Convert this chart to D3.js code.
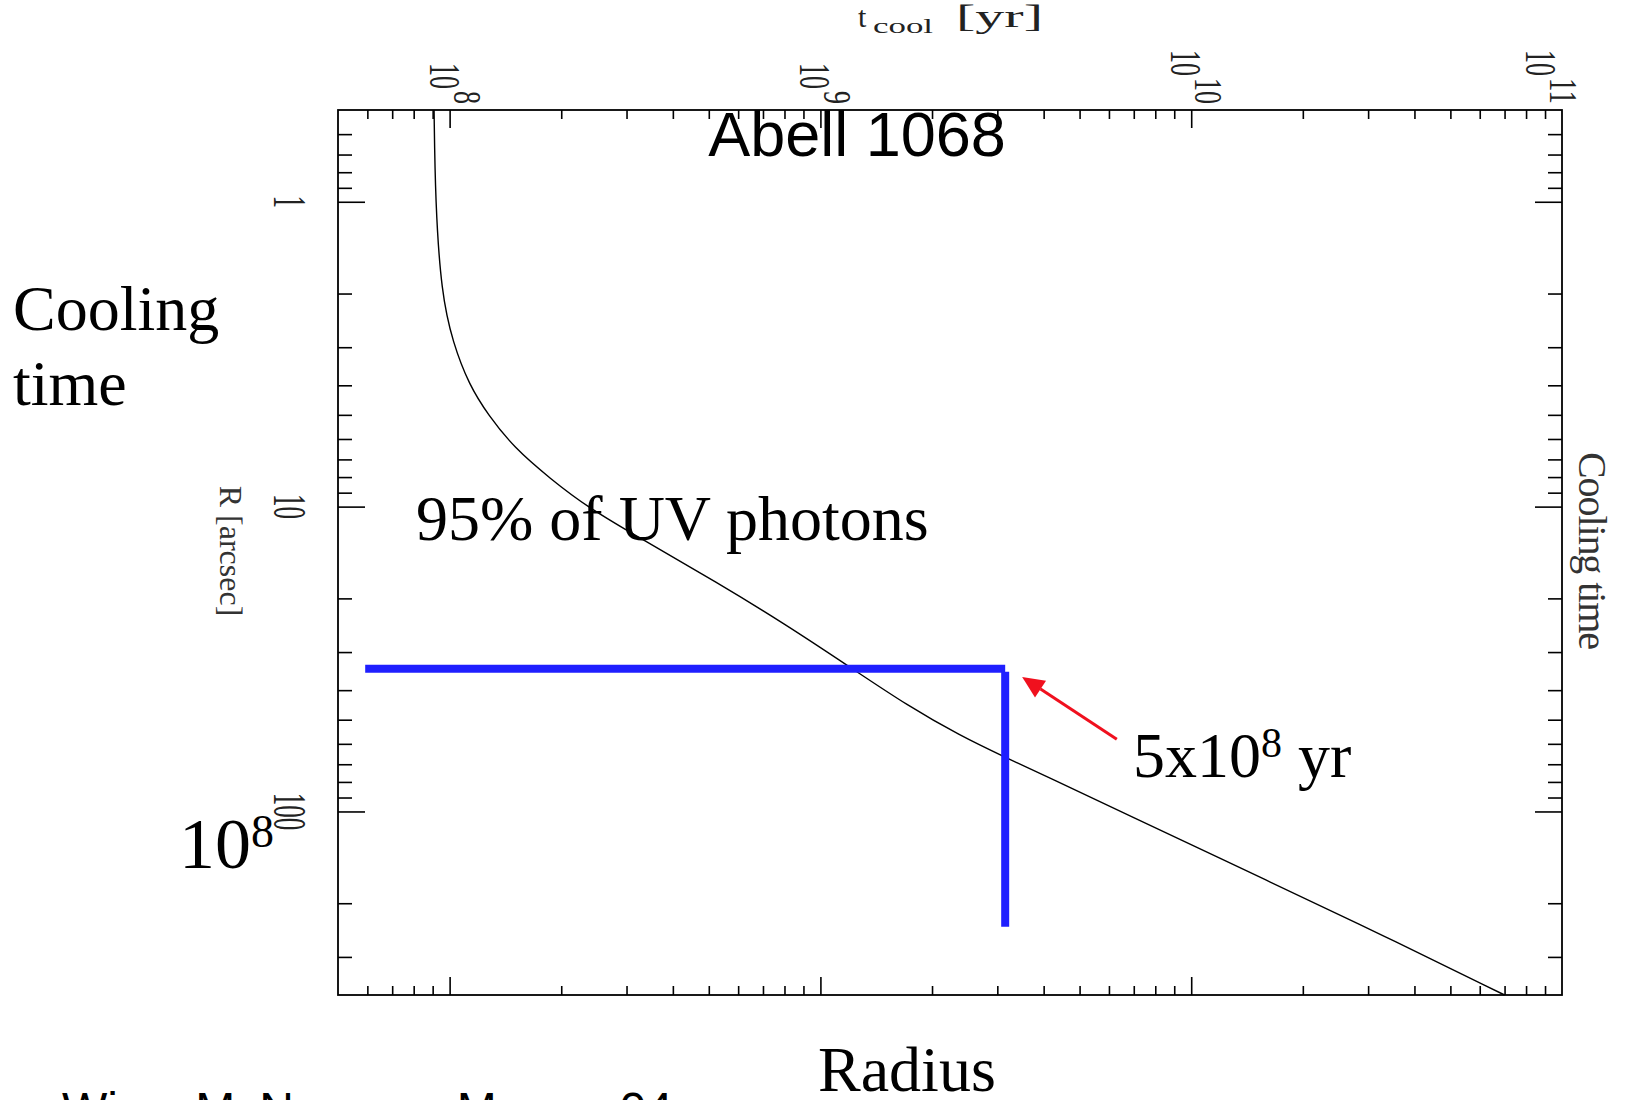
<!DOCTYPE html>
<html><head><meta charset="utf-8">
<script src="https://cdn.jsdelivr.net/npm/d3@7"></script>
<style>html,body{margin:0;padding:0;background:#fff;} svg{display:block;}</style>
</head><body>
<svg id="chart" width="1630" height="1100"></svg>
<script>
// ---- data ----
const curveR = [0.5, 1, 2, 2.9, 4, 5, 6.4, 8.1, 10, 12.9, 17.7, 24.2, 33.8, 45, 56.4, 66.2, 77.8, 100, 172, 255, 400];
const curveT = [9.08e7, 9.15e7, 9.5e7, 1.02e8, 1.13e8, 1.27e8, 1.49e8, 1.87e8, 2.34e8, 3.34e8, 5.25e8, 8.0e8, 1.21e9, 1.72e9, 2.38e9, 3.13e9, 4.17e9, 6.45e9, 1.66e10, 3.29e10, 7.0e10];
const blueHorizT = [5.92e7, 3.15e9];
const blueHorizR = [34, 34];
const blueVertT = [3.15e9, 3.15e9];
const blueVertR = [34.8, 239];
const arrowT = [6.3e9, 3.5e9];
const arrowR = [58, 36.2];
const xDomain = [5e7, 1e11];
const yDomain = [0.5, 400];
const xLabelValues = [1e8, 1e9, 1e10, 1e11];
const xLabelExps = ["8", "9", "10", "11"];
const yLabelValues = [1, 10, 100];
const yLabelTexts = ["1", "10", "100"];

// ---- layout ----
const L = 338, R = 1562, T = 110, B = 995;
const svg = d3.select("#chart");
const x = d3.scaleLog().domain(xDomain).range([L, R]);
const y = d3.scaleLog().domain(yDomain).range([T, B]);
const hershey = "'Liberation Serif', 'DejaVu Serif', serif";
const times = "'Liberation Serif', 'Times New Roman', serif";

const isMajor = v => Math.abs(Math.log10(v) - Math.round(Math.log10(v))) < 1e-9;
const xTicks = x.ticks().filter(v => v > xDomain[0] && v < xDomain[1]);
const yTicks = y.ticks().filter(v => v > yDomain[0] && v < yDomain[1]);
const xMin = xTicks.filter(v => !isMajor(v)), xMaj = xTicks.filter(isMajor);
const yMin = yTicks.filter(v => !isMajor(v)), yMaj = yTicks.filter(isMajor);

function axis(gen, tr, vals, size) {
  const g = svg.append("g").attr("transform", tr)
    .call(gen.tickValues(vals).tickSize(-size).tickSizeOuter(0).tickFormat(""));
  g.select(".domain").remove();
  g.selectAll("line").attr("stroke", "#000").attr("stroke-width", 1.6);
}
axis(d3.axisBottom(x), `translate(0,${B})`, xMin, 9);
axis(d3.axisBottom(x), `translate(0,${B})`, xMaj, 18);
axis(d3.axisTop(x), `translate(0,${T})`, xMin, 9);
axis(d3.axisTop(x), `translate(0,${T})`, xMaj, 18);
axis(d3.axisLeft(y), `translate(${L},0)`, yMin, 14);
axis(d3.axisLeft(y), `translate(${L},0)`, yMaj, 27);
axis(d3.axisRight(y), `translate(${R},0)`, yMin, 14);
axis(d3.axisRight(y), `translate(${R},0)`, yMaj, 27);

svg.append("rect").attr("x", L).attr("y", T).attr("width", R - L).attr("height", B - T)
  .attr("fill", "none").attr("stroke", "#000").attr("stroke-width", 1.8);

// top tick labels (rotated)
xLabelValues.forEach((v, i) => {
  const X = x(v);
  const dx = (v === xDomain[1]) ? -36 : -20;
  const g = svg.append("g").attr("transform", `translate(${X + dx},0) rotate(90)`);
  const exp = xLabelExps[i];
  const expLen = 13 * exp.length;
  const expStart = 104 - expLen;
  const baseStart = expStart - 28;
  g.append("text").attr("x", baseStart).attr("y", 0).text("10")
    .attr("font-family", hershey).attr("font-size", 44).attr("fill", "#222")
    .attr("textLength", 26).attr("lengthAdjust", "spacingAndGlyphs");
  g.append("text").attr("x", expStart).attr("y", -24).text(exp)
    .attr("font-family", hershey).attr("font-size", 40).attr("fill", "#222")
    .attr("textLength", expLen).attr("lengthAdjust", "spacingAndGlyphs");
});

// left tick labels (rotated)
yLabelValues.forEach((v, i) => {
  const t = yLabelTexts[i];
  svg.append("g").attr("transform", `translate(274,${y(v)}) rotate(90)`)
    .append("text").attr("x", -6.25 * t.length).attr("y", 0).text(t)
    .attr("font-family", hershey).attr("font-size", 46).attr("fill", "#222")
    .attr("textLength", 12.5 * t.length).attr("lengthAdjust", "spacingAndGlyphs");
});

// axis titles (hershey-like)
svg.append("g").attr("transform", `translate(220,551) rotate(90)`)
  .append("text").attr("text-anchor", "middle").text("R [arcsec]")
  .attr("font-family", hershey).attr("font-size", 32).attr("fill", "#333");
svg.append("g").attr("transform", `translate(1579,551) rotate(90)`)
  .append("text").attr("x", -99).text("Cooling time")
  .attr("font-family", hershey).attr("font-size", 40).attr("fill", "#333")
  .attr("textLength", 198).attr("lengthAdjust", "spacing");
svg.append("text").attr("x", 858).attr("y", 27).text("t")
  .attr("font-family", hershey).attr("font-size", 30).attr("fill", "#222");
svg.append("text").attr("x", 873).attr("y", 33).text("cool")
  .attr("font-family", hershey).attr("font-size", 22).attr("fill", "#222")
  .attr("textLength", 60).attr("lengthAdjust", "spacingAndGlyphs");
svg.append("text").attr("x", 956).attr("y", 27).text("[yr]")
  .attr("font-family", hershey).attr("font-size", 32).attr("fill", "#222")
  .attr("textLength", 87).attr("lengthAdjust", "spacingAndGlyphs");

// curve
const line = d3.line().x(d => x(d[0])).y(d => y(d[1])).curve(d3.curveBasis);
svg.append("path").datum(curveT.map((t, i) => [t, curveR[i]]))
  .attr("d", line).attr("fill", "none").attr("stroke", "#000").attr("stroke-width", 1.4);

// blue lines
const blue = "#1f1fff";
svg.append("path").datum(blueHorizT.map((t, i) => [t, blueHorizR[i]]))
  .attr("d", d3.line().x(d => x(d[0])).y(d => y(d[1])))
  .attr("stroke", blue).attr("stroke-width", 8).attr("fill", "none");
svg.append("path").datum(blueVertT.map((t, i) => [t, blueVertR[i]]))
  .attr("d", d3.line().x(d => x(d[0])).y(d => y(d[1])))
  .attr("stroke", blue).attr("stroke-width", 8).attr("fill", "none");

// red arrow
const red = "#f0101e";
const ax0 = x(arrowT[0]), ay0 = y(arrowR[0]), ax1 = x(arrowT[1]), ay1 = y(arrowR[1]);
const ang = Math.atan2(ay1 - ay0, ax1 - ax0);
const hl = 22, hw = 10;
const bx = ax1 - hl * Math.cos(ang), by = ay1 - hl * Math.sin(ang);
svg.append("line").attr("x1", ax0).attr("y1", ay0).attr("x2", bx).attr("y2", by)
  .attr("stroke", red).attr("stroke-width", 3);
svg.append("polygon").attr("points", [
  [ax1, ay1],
  [bx + hw * Math.sin(ang), by - hw * Math.cos(ang)],
  [bx - hw * Math.sin(ang), by + hw * Math.cos(ang)]
].map(p => p.join(",")).join(" ")).attr("fill", red);

// slide texts
svg.append("text").attr("x", 857).attr("y", 156).attr("text-anchor", "middle").text("Abell 1068")
  .attr("font-family", "'Liberation Sans', Arial, sans-serif").attr("font-size", 63);
svg.append("text").attr("x", 13).attr("y", 330).text("Cooling")
  .attr("font-family", times).attr("font-size", 64);
svg.append("text").attr("x", 13).attr("y", 405).text("time")
  .attr("font-family", times).attr("font-size", 64);
svg.append("text").attr("x", 416).attr("y", 540).text("95% of UV photons")
  .attr("font-family", times).attr("font-size", 64);
const t5 = svg.append("text").attr("x", 1133).attr("y", 777)
  .attr("font-family", times).attr("font-size", 64);
t5.append("tspan").text("5x10");
t5.append("tspan").attr("font-size", 42).attr("dy", -20).text("8");
t5.append("tspan").attr("dy", 20).text(" yr");
const t8 = svg.append("text").attr("x", 179).attr("y", 868)
  .attr("font-family", times).attr("font-size", 72);
t8.append("tspan").text("10");
t8.append("tspan").attr("font-size", 46).attr("dy", -21).text("8");
svg.append("text").attr("x", 818).attr("y", 1091).text("Radius")
  .attr("font-family", times).attr("font-size", 64);
svg.append("text").attr("x", 62).attr("y", 1126).text("Wise, McNamara, Murray 04")
  .attr("font-family", "'Liberation Sans', Arial, sans-serif").attr("font-size", 48);
</script>
</body></html>
